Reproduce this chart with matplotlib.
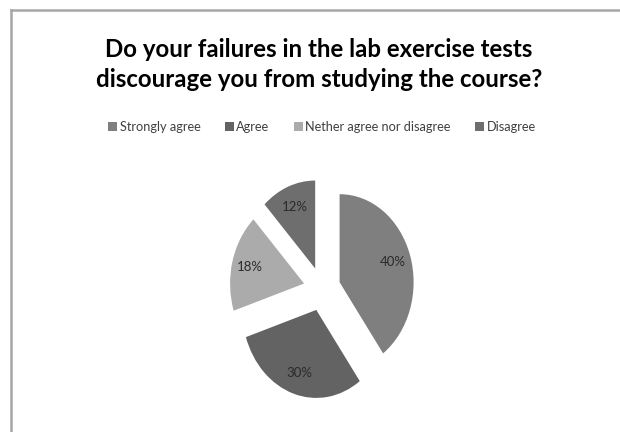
import matplotlib
matplotlib.use("Agg")
import matplotlib.pyplot as plt
from matplotlib.patches import Patch
from matplotlib.lines import Line2D

categories = ["Strongly agree", "Agree", "Nether agree nor disagree", "Disagree"]
values = [40, 30, 18, 12]
colors = ["#7f7f7f", "#636363", "#ababab", "#6e6e6e"]
title = "Do your failures in the lab exercise tests\ndiscourage you from studying the course?"

plt.rcParams['font.family'] = ['Lato', 'DejaVu Sans']

W, H = 620, 432
fig = plt.figure(figsize=(W / 100, H / 100), dpi=100)

# border lines (top and left)
fig.add_artist(Line2D([10.5 / W, 1.0], [1 - 9.5 / H, 1 - 9.5 / H], transform=fig.transFigure,
                      color="#a6a6a6", lw=1.8))
fig.add_artist(Line2D([10.5 / W, 10.5 / W], [0, 1 - 9.5 / H], transform=fig.transFigure,
                      color="#a6a6a6", lw=1.8))

# pie axes: 1 unit = 74 px horizontally, 88 px vertically, centre (322, 289)
cx, cy, rx, ry = 322, 289, 74, 88
aw, ah = 3 * rx, 3 * ry
ax = fig.add_axes([(cx - aw / 2) / W, (H - cy - ah / 2) / H, aw / W, ah / H])
wedges, texts, autotexts = ax.pie(values, colors=colors, startangle=90, counterclock=False,
                                  explode=[0.25] * len(values), autopct='%1.0f%%',
                                  pctdistance=0.75,
                                  wedgeprops=dict(linewidth=0),
                                  textprops=dict(fontsize=9.5, color="#2a2a2a"))
ax.set_aspect('auto')
ax.set_xlim(-1.5, 1.5)
ax.set_ylim(-1.5, 1.5)
ax.axis('off')

fig.text(319 / W, 1 - 64.5 / H, title, ha='center', va='center', fontsize=17.3,
         fontweight='bold', color='black', linespacing=1.35)

handles = [Patch(facecolor=c, edgecolor='none') for c in colors]
fig.legend(handles, categories, loc='center', bbox_to_anchor=(322 / W, 1 - 127 / H), ncol=4,
           frameon=False, fontsize=9.2, handlelength=0.7, handleheight=0.7, handletextpad=0.2,
           columnspacing=1.9, labelcolor="#404040")

fig.savefig("out.png", dpi=100, facecolor='white')
